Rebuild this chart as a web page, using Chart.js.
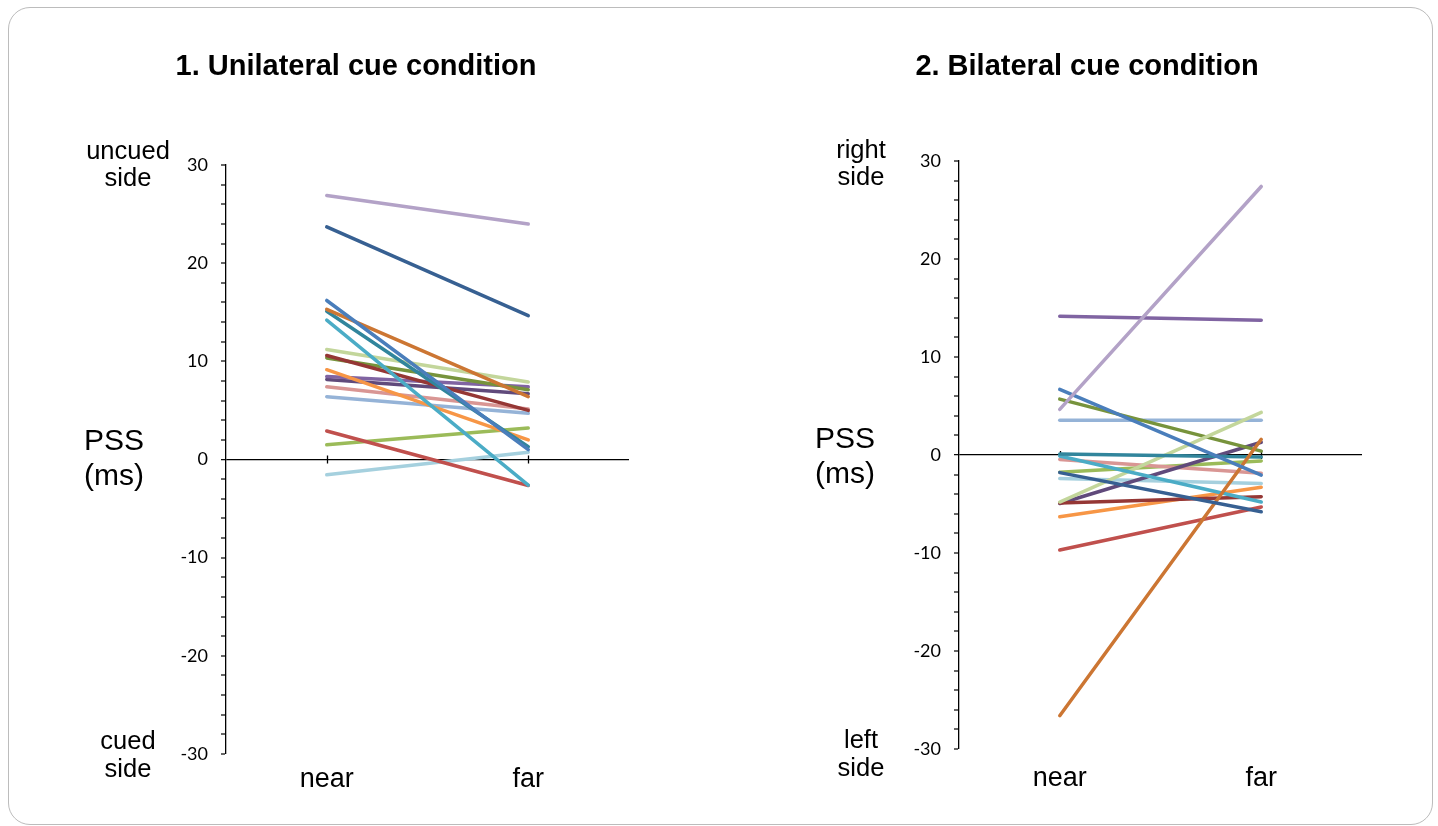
<!DOCTYPE html>
<html><head><meta charset="utf-8">
<script src="https://cdn.jsdelivr.net/npm/chart.js@4.4.0/dist/chart.umd.min.js"></script>
<style>
html,body{margin:0;padding:0;background:#fff;width:1438px;height:826px;overflow:hidden;}
#frame{position:absolute;left:8px;top:7px;width:1425px;height:818px;border:1.5px solid #bcbcbc;border-radius:22px;box-sizing:border-box;}
canvas{position:absolute;top:0;}
</style></head><body>
<div id="frame"></div>
<canvas id="c1" width="719" height="826" style="left:0"></canvas>
<canvas id="c2" width="719" height="826" style="left:719px"></canvas>
<script>
// ---- data ----
const categories = ['near', 'far'];
const subjectColors = [
  '#B3A2C7', '#376092', '#4A7EBB', '#CC7633', '#31859C', '#4BACC6',
  '#C3D69B', '#953735', '#77933C', '#F79646', '#8064A2', '#604A7B',
  '#D99694', '#95B3D7', '#C0504D', '#9BBB59', '#A5D0DE'
];
const unilateralNear = [26.9, 23.7, 16.2, 15.3, 15.1, 14.2, 11.2, 10.6, 10.35, 9.15, 8.45, 8.15, 7.4, 6.4, 2.9, 1.5, -1.55];
const unilateralFar  = [24.0, 14.65, 1.0, 6.4, 1.3, -2.6, 7.9, 5.0, 7.1, 2.0, 7.4, 6.7, 5.15, 4.7, -2.65, 3.2, 0.75];
const bilateralNear  = [4.65, -1.8, 6.7, -26.6, 0.1, -0.1, -4.8, -4.9, 5.7, -6.3, 14.15, -4.95, -0.45, 3.55, -9.7, -1.75, -2.4];
const bilateralFar   = [27.4, -5.8, -2.05, 1.6, -0.2, -4.8, 4.35, -4.25, 0.4, -3.3, 13.75, 1.3, -1.85, 3.55, -5.3, -0.6, -2.9];
const yMin = -30, yMax = 30, yMinorStep = 2, yMajorStep = 10;

// ---- helpers ----
function makeDatasets(nearVals, farVals) {
  return nearVals.map((v, i) => ({
    label: 'S' + (i + 1),
    data: [v, farVals[i]],
    borderColor: subjectColors[i],
    backgroundColor: subjectColors[i],
    borderWidth: 3.5,
    borderCapStyle: 'round',
    pointRadius: 0,
    pointHoverRadius: 0,
    tension: 0,
    fill: false
  }));
}

const extrasPlugin = {
  id: 'extras',
  beforeDatasetsDraw(chart) {
    const ctx = chart.ctx, xs = chart.scales.x, ys = chart.scales.y;
    const y0 = ys.getPixelForValue(0);
    ctx.save();
    ctx.strokeStyle = '#000';
    ctx.lineWidth = 1.3;
    categories.forEach((c, i) => {
      const x = Math.round(xs.getPixelForValue(i)) + 0.5;
      ctx.beginPath();
      ctx.moveTo(x, y0 - 4);
      ctx.lineTo(x, y0 + 4);
      ctx.stroke();
    });
    ctx.restore();
  },
  afterDraw(chart, args, o) {
    const ctx = chart.ctx;
    ctx.save();
    ctx.fillStyle = '#000';
    ctx.textAlign = 'center';
    ctx.textBaseline = 'middle';
    ctx.font = 'bold 29px "Liberation Sans", Arial, sans-serif';
    ctx.fillText(o.title, o.titleX, o.titleY);
    ctx.font = '25.5px "Liberation Sans", Arial, sans-serif';
    ctx.fillText(o.top[0], o.sideX, o.topY);
    ctx.fillText(o.top[1], o.sideX, o.topY + 27);
    ctx.fillText(o.bottom[0], o.sideX, o.bottomY);
    ctx.fillText(o.bottom[1], o.sideX, o.bottomY + 28);
    ctx.font = '30px "Liberation Sans", Arial, sans-serif';
    ctx.fillText('PSS', o.pssX, o.pssY);
    ctx.fillText('(ms)', o.pssX, o.pssY + 35);
    ctx.restore();
  }
};

function makeChart(id, nearVals, farVals, pad, xPad, extras) {
  return new Chart(document.getElementById(id), {
    type: 'line',
    data: { labels: categories, datasets: makeDatasets(nearVals, farVals) },
    plugins: [extrasPlugin],
    options: {
      responsive: false,
      animation: false,
      events: [],
      layout: { padding: pad },
      plugins: {
        legend: { display: false },
        title: { display: false },
        tooltip: { enabled: false },
        extras: extras
      },
      scales: {
        x: {
          type: 'category',
          offset: true,
          grid: { display: false, drawTicks: false },
          border: { display: false },
          ticks: {
            color: '#000',
            padding: xPad,
            font: { family: '"Liberation Sans", Arial, sans-serif', size: 27 }
          },
          afterFit(s) { s.height = 50; }
        },
        y: {
          min: yMin, max: yMax,
          grid: {
            drawOnChartArea: true,
            drawTicks: true,
            tickLength: 5,
            tickColor: '#000',
            tickWidth: 1.2,
            color: c => (c.tick && c.tick.value === 0) ? '#000' : 'rgba(0,0,0,0)',
            lineWidth: c => (c.tick && c.tick.value === 0) ? 1.3 : 0
          },
          border: { display: true, color: '#000', width: 1.3 },
          ticks: {
            stepSize: yMinorStep,
            autoSkip: false,
            color: '#000',
            padding: 13,
            font: { family: 'Lato, "Open Sans", sans-serif', size: 18 },
            callback: v => (v % yMajorStep === 0) ? String(v) : ''
          },
          afterFit(s) { s.width = 60; }
        }
      }
    }
  });
}

makeChart('c1', unilateralNear, unilateralFar,
  { left: 166, right: 90, top: 165, bottom: 22 }, 9,
  { title: '1. Unilateral cue condition', titleX: 356, titleY: 67,
    top: ['uncued', 'side'], bottom: ['cued', 'side'], sideX: 128, topY: 152, bottomY: 742,
    pssX: 114, pssY: 442 });

makeChart('c2', bilateralNear, bilateralFar,
  { left: 180, right: 76, top: 161, bottom: 27 }, 13,
  { title: '2. Bilateral cue condition', titleX: 368, titleY: 67,
    top: ['right', 'side'], bottom: ['left', 'side'], sideX: 142, topY: 151, bottomY: 741,
    pssX: 126, pssY: 440 });
</script>
</body></html>
